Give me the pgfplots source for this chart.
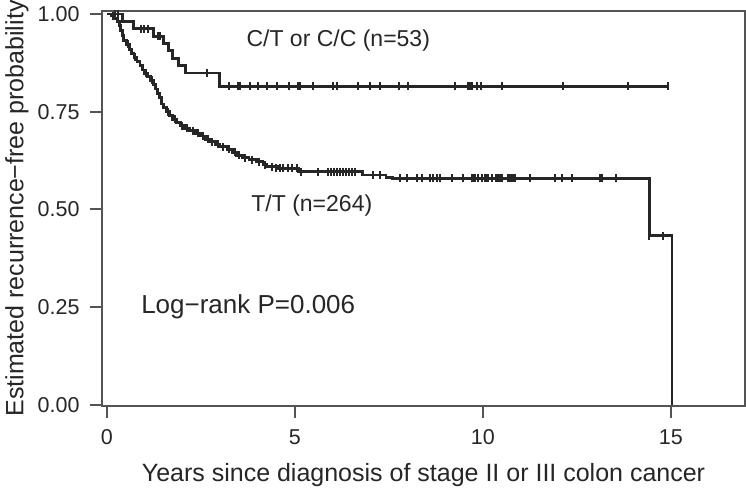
\documentclass[border=0pt]{standalone}
\usepackage{fontspec}
\setmainfont{Liberation Sans}
\usepackage{pgfplots}
\pgfplotsset{compat=1.18}
\definecolor{txt}{rgb}{0.15,0.15,0.15}
\definecolor{crv}{rgb}{0.15,0.15,0.15}
\definecolor{axc}{rgb}{0.33,0.33,0.33}

\pgfplotstableread{
t s
0 1.0
0.42 0.981
0.70 0.962
1.25 0.943
1.50 0.925
1.63 0.906
1.74 0.887
1.90 0.868
2.10 0.849
3.00 0.815
14.93 0.815
}\ctdata

\pgfplotstableread{
t s
0.22 1.0
0.30 1.0
0.92 0.962
1.00 0.962
1.10 0.962
1.36 0.943
1.42 0.943
2.66 0.849
3.25 0.815
3.49 0.815
3.54 0.815
3.80 0.815
4.02 0.815
4.25 0.815
4.53 0.815
4.85 0.815
5.09 0.815
5.13 0.815
5.49 0.815
6.02 0.815
6.11 0.815
6.68 0.815
6.99 0.815
7.26 0.815
7.77 0.815
8.01 0.815
9.26 0.815
9.61 0.815
9.65 0.815
9.70 0.815
9.83 0.815
9.96 0.815
10.50 0.815
12.12 0.815
13.86 0.815
14.93 0.815
}\ctcens

\pgfplotstableread{
t s
0 1.0
0.12 0.996
0.20 0.989
0.28 0.981
0.33 0.970
0.37 0.958
0.41 0.945
0.45 0.933
0.52 0.922
0.60 0.910
0.66 0.900
0.72 0.889
0.80 0.879
0.88 0.868
0.94 0.857
1.00 0.848
1.08 0.840
1.15 0.830
1.24 0.820
1.30 0.808
1.34 0.797
1.40 0.786
1.45 0.770
1.50 0.760
1.58 0.750
1.66 0.740
1.75 0.731
1.85 0.722
1.95 0.714
2.07 0.708
2.20 0.702
2.35 0.695
2.48 0.688
2.62 0.680
2.74 0.673
2.88 0.667
3.00 0.661
3.20 0.654
3.33 0.646
3.45 0.639
3.60 0.632
3.78 0.627
3.97 0.622
4.15 0.615
4.25 0.609
4.55 0.605
5.10 0.597
6.80 0.588
7.42 0.582
7.60 0.580
14.42 0.433
15.03 0.0
}\ttdata

\pgfplotstableread{
t s
0.16 0.996
0.55 0.922
0.76 0.889
1.05 0.848
1.20 0.830
1.62 0.750
1.80 0.731
2.00 0.714
2.13 0.708
2.28 0.702
2.42 0.695
2.55 0.688
2.68 0.680
2.80 0.673
2.95 0.667
3.10 0.661
3.25 0.654
3.40 0.646
3.52 0.639
3.68 0.632
3.85 0.627
4.05 0.622
4.20 0.615
4.38 0.609
4.51 0.605
4.60 0.605
4.69 0.605
4.82 0.605
4.91 0.605
5.05 0.605
5.15 0.597
5.62 0.597
5.88 0.597
5.96 0.597
6.04 0.597
6.12 0.597
6.20 0.597
6.28 0.597
6.36 0.597
6.44 0.597
6.52 0.597
6.60 0.597
7.07 0.588
7.26 0.588
7.79 0.580
7.97 0.580
8.24 0.580
8.37 0.580
8.59 0.580
8.68 0.580
8.77 0.580
8.86 0.580
9.17 0.580
9.48 0.580
9.70 0.580
9.74 0.580
9.79 0.580
9.88 0.580
9.97 0.580
10.05 0.580
10.10 0.580
10.14 0.580
10.23 0.580
10.36 0.580
10.41 0.580
10.45 0.580
10.50 0.580
10.67 0.580
10.72 0.580
10.76 0.580
10.81 0.580
10.85 0.580
11.25 0.580
11.91 0.580
12.09 0.580
12.36 0.580
13.11 0.580
13.16 0.580
13.54 0.580
14.42 0.433
14.78 0.433
}\ttcens

\begin{document}
\begin{tikzpicture}
\path[use as bounding box] (-102pt,-83pt) rectangle (644pt,406pt);
\begin{axis}[
  scale only axis, width=643pt, height=395pt,
  xmin=-0.13, xmax=16.97, ymin=-0.0026, ymax=1.0077,
  axis line style={axc, line width=2pt},
  xtick={0,5,10,15}, xticklabels={0,5,10,15},
  ytick={0,0.25,0.5,0.75,1}, yticklabels={0.00,0.25,0.50,0.75,1.00},
  tick align=outside, major tick length=12pt,
  every tick/.style={axc, line width=2pt},
  xtick pos=bottom, ytick pos=left,
  ticklabel style={font=\fontsize{21.5}{25}\selectfont, text=txt},
  xticklabel style={yshift=-8pt},
  yticklabel style={xshift=-7pt},
  /pgf/number format/assume math mode=true,
  clip=false,
]
\addplot[const plot, crv, line width=2.8pt] table[x=t,y=s] {\ctdata};
\addplot[const plot, crv, line width=2.8pt] table[x=t,y=s] {\ttdata};
\addplot[only marks, mark=|, mark size=4pt, crv, mark options={line width=2pt}] table[x=t,y=s] {\ctcens};
\addplot[only marks, mark=|, mark size=4pt, crv, mark options={line width=2pt}] table[x=t,y=s] {\ttcens};
\node[anchor=base west, font=\fontsize{23}{27}\selectfont, text=txt] at (axis cs:3.62,0.916) {C/T or C/C (n=53)};
\node[anchor=base west, font=\fontsize{23}{27}\selectfont, text=txt] at (axis cs:3.75,0.494) {T/T (n=264)};
\node[anchor=base west, font=\fontsize{26}{30}\selectfont, text=txt] at (axis cs:0.82,0.235) {Log−rank P=0.006};
\node[rotate=90, anchor=center, font=\fontsize{25}{30}\selectfont, text=txt] at ([xshift=-85pt]axis description cs:0,0.5) {Estimated recurrence−free probability};
\node[anchor=base, font=\fontsize{25}{30}\selectfont, text=txt] at ([yshift=-75pt]axis description cs:0.5,0) {Years since diagnosis of stage II or III colon cancer};
\end{axis}
\end{tikzpicture}
\end{document}
